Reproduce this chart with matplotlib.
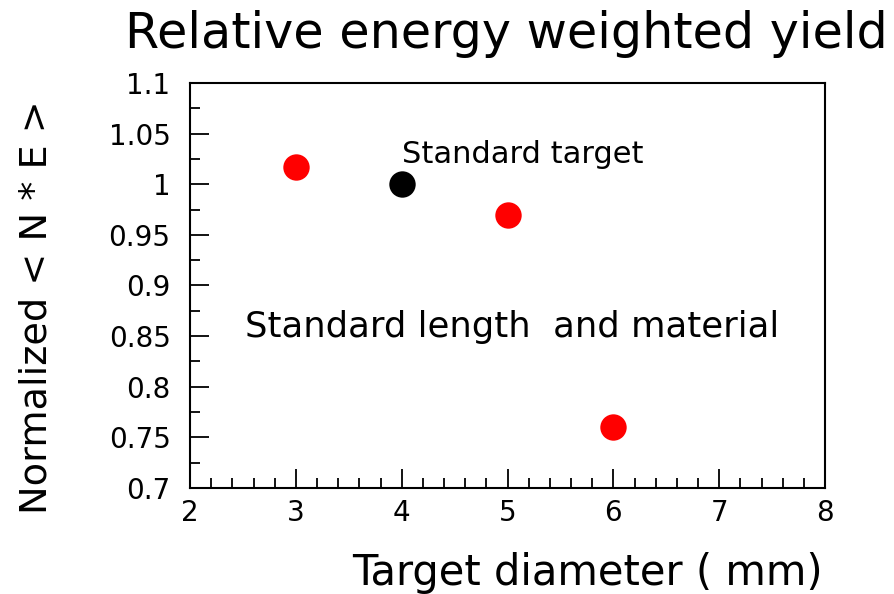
import matplotlib
matplotlib.use("Agg")
import matplotlib.pyplot as plt
from matplotlib.ticker import MultipleLocator, FixedLocator, FixedFormatter

plt.rcParams['font.family'] = ['DejaVu Sans']

# Target diameter (mm) and normalized <N*E> yield
diam_alt = [3, 5, 6]
yield_alt = [1.017, 0.970, 0.760]
diam_std = [4]
yield_std = [1.0]

x_ticks = [2, 3, 4, 5, 6, 7, 8]
x_tick_labels = ["2", "3", "4", "5", "6", "7", "8"]
y_ticks = [0.7, 0.75, 0.8, 0.85, 0.9, 0.95, 1.0, 1.05, 1.1]
y_tick_labels = ["0.7", "0.75", "0.8", "0.85", "0.9", "0.95", "1", "1.05", "1.1"]

fig = plt.figure(figsize=(8.94, 5.94), dpi=100)
ax = fig.add_axes([190/894, 1-488/594, (825-190)/894, (488-83)/594])

ax.plot(diam_alt, yield_alt, 'o', color='#ff0000', markersize=19, markeredgewidth=0)
ax.plot(diam_std, yield_std, 'o', color='black', markersize=19, markeredgewidth=0)

ax.set_xlim(2, 8)
ax.set_ylim(0.7, 1.1)
ax.xaxis.set_major_locator(FixedLocator(x_ticks))
ax.xaxis.set_major_formatter(FixedFormatter(x_tick_labels))
ax.xaxis.set_minor_locator(MultipleLocator(0.2))
ax.yaxis.set_major_locator(FixedLocator(y_ticks))
ax.yaxis.set_major_formatter(FixedFormatter(y_tick_labels))
ax.yaxis.set_minor_locator(MultipleLocator(0.025))

for s in ax.spines.values():
    s.set_linewidth(1.5)
ax.tick_params(which='both', direction='in', top=False, right=False, width=1.3)
ax.tick_params(axis='x', which='major', length=14, pad=8, labelsize=20)
ax.tick_params(axis='x', which='minor', length=7)
ax.tick_params(axis='y', which='major', length=14, pad=14, labelsize=20)
ax.tick_params(axis='y', which='minor', length=7)

ax.text(4.0, 1.021, "Standard target", fontsize=22, ha='left', va='baseline')
ax.text(2.52, 0.849, "Standard length  and material", fontsize=25.5, ha='left', va='baseline')

fig.text(125/894, 1-48/594, "Relative energy weighted yield", fontsize=35.5,
         ha='left', va='baseline')
fig.text(352/894, 1-585/594, "Target diameter ( mm)", fontsize=30,
         ha='left', va='baseline')
fig.text(37/894, 1-307/594, "Normalized < N * E >", fontsize=27.5,
         ha='center', va='center', rotation=90)

fig.savefig("out.png", dpi=100)
